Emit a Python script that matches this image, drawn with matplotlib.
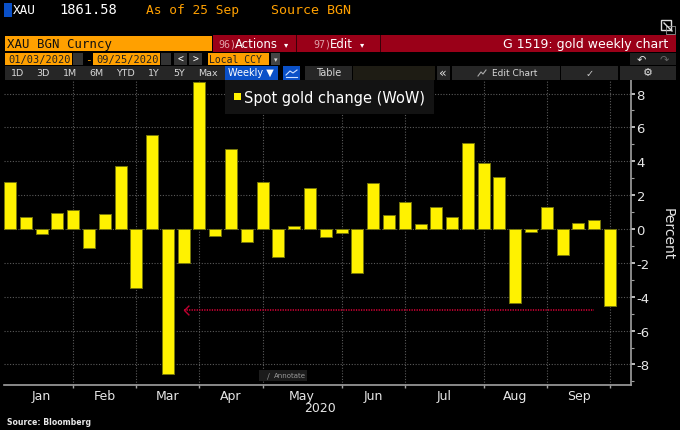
import matplotlib
matplotlib.use("Agg")
import matplotlib.pyplot as plt
import matplotlib.dates as mdates
from matplotlib.patches import Rectangle
from matplotlib.path import Path
from matplotlib.ticker import FixedLocator, FixedFormatter, MultipleLocator, FuncFormatter
import pandas as pd

week_start = "2020-01-03"
week_end = "2020-09-25"
wow_change = [2.76, 0.69, -0.30, 0.93, 1.14, -1.14, 0.89, 3.74, -3.46, 5.57, -8.54, -1.99, 8.66,
              -0.39, 4.70, -0.79, 2.80, -1.65, 0.15, 2.45, -0.47, -0.22, -2.57, 2.72, 0.80, 1.58,
              0.28, 1.31, 0.69, 5.07, 3.90, 3.05, -4.40, -0.18, 1.28, -1.53, 0.37, 0.55, -4.53]
month_names = ["Jan", "Feb", "Mar", "Apr", "May", "Jun", "Jul", "Aug", "Sep"]
month_ticks = ["2020-01-31", "2020-02-28", "2020-03-27", "2020-04-24", "2020-05-29",
               "2020-06-26", "2020-07-31", "2020-08-28", "2020-09-25"]
arrow_level = -4.78
arrow_from = "2020-09-18"
arrow_to = "2020-03-20"
range_buttons = ["1D", "3D", "1M", "6M", "YTD", "1Y", "5Y", "Max"]

W, H = 680, 431
YEL = "#fff200"
GRID = "#5a5a5a"
AXC = "#a0a0a0"
TXT = "#e6e6e6"
ORANGE = "#ffa000"
RED = "#9a0018"
ARROW = "#c00030"
MONO = "DejaVu Sans Mono"

fig = plt.figure(figsize=(W / 100, H / 100), dpi=100, facecolor="black")
ax_l, ax_r, ax_t, ax_b = 4, 631, 81, 386
ax = fig.add_axes([ax_l / W, 1 - ax_b / H, (ax_r - ax_l) / W, (ax_b - ax_t) / H], facecolor="black")

dates = pd.date_range(week_start, week_end, freq="W-FRI")
x = mdates.date2num(dates)
ticks = mdates.date2num(pd.to_datetime(month_ticks))
day_px = 15.79 / 7
ax.bar(x, wow_change, width=12 / day_px, color=YEL, edgecolor="#77770a", linewidth=0.7, zorder=3)

ax.set_xlim(x[0] - 6 / day_px, x[0] + (ax_r - 10) / day_px)
ax.set_ylim((230 - ax_b) / 16.93, (230 - ax_t) / 16.93)
ax.yaxis.tick_right()
ax.yaxis.set_major_locator(MultipleLocator(2))
ax.yaxis.set_minor_locator(MultipleLocator(1))
ax.yaxis.set_major_formatter(FuncFormatter(lambda v, _: f"{v:.0f}".replace("\u2212", "-")))
ax.tick_params(axis="y", which="major", length=3, width=1.2, color="#dddddd", labelcolor=TXT,
               labelsize=9.5, pad=1)
ax.tick_params(axis="y", which="minor", length=2.5, width=0.8, color=AXC)
ax.xaxis.set_major_locator(FixedLocator(ticks))
ax.xaxis.set_major_formatter(FixedFormatter([""] * len(ticks)))
label_pos = [(a + b) / 2 for a, b in zip([x[0]] + list(ticks[:-1]), ticks)]
ax.xaxis.set_minor_locator(FixedLocator(label_pos))
ax.xaxis.set_minor_formatter(FixedFormatter(month_names))
ax.tick_params(axis="x", which="major", length=2, width=1, color=AXC)
ax.tick_params(axis="x", which="minor", length=0, labelcolor=TXT, labelsize=9, pad=3)
ax.grid(True, which="major", color=GRID, linestyle=(0, (1, 1.5)), linewidth=0.8, zorder=1)
for s in ("top", "left"):
    ax.spines[s].set_visible(False)
for s in ("bottom", "right"):
    ax.spines[s].set_color(AXC)
    ax.spines[s].set_linewidth(1.2)

arrow_x = mdates.date2num(pd.to_datetime([arrow_to, arrow_from]))
ax.plot(arrow_x, [arrow_level, arrow_level], color=ARROW, linestyle=(0, (0.7, 0.7)), linewidth=1.3, zorder=4)
chevron = Path([(1, 1), (0, 0), (1, -1)], [Path.MOVETO, Path.LINETO, Path.LINETO])
ax.plot(arrow_x[:1], [arrow_level], marker=chevron, markersize=7, markerfacecolor="none",
        markeredgecolor=ARROW, markeredgewidth=1.0, linestyle="none", zorder=4)

ui = fig.add_axes([0, 0, 1, 1], facecolor="none", zorder=5)
ui.set_xlim(0, W)
ui.set_ylim(H, 0)
ui.axis("off")

def box(x0, y0, x1, y1, c, ec="none", lw=0):
    ui.add_patch(Rectangle((x0, y0), x1 - x0, y1 - y0, facecolor=c, edgecolor=ec, linewidth=lw))

def label(x0, y0, s, c=TXT, size=8, ha="left", font=MONO, **kw):
    ui.text(x0, y0, s, color=c, fontsize=size, ha=ha, va="center", family=font, **kw)

# ticker line
box(4, 4, 12, 18, "#0a50c8")
label(13, 10.5, "XAU", "#ffffff", 9.2)
label(59, 10.5, "1861.58", "#ffffff", 9.9)
label(146, 10.5, "As of 25 Sep", ORANGE, 9.3)
label(271, 10.5, "Source BGN", ORANGE, 9.6)

# title bars
box(5, 37, 212, 52, ORANGE)
label(7, 44.5, "XAU BGN Curncy", "#111111", 8.9)
box(213, 36, 676, 53, RED)
box(296, 36, 297, 53, "#3a0008")
box(380, 36, 381, 53, "#3a0008")
label(218, 44.5, "96)", "#e0a0a8", 7.2)
label(235, 44.5, "Actions", "#ffffff", 8.5, font="DejaVu Sans")
label(286, 44.5, "\u25be", "#ffffff", 6, ha="center", font="DejaVu Sans")
label(313, 44.5, "97)", "#e0a0a8", 7.2)
label(330, 44.5, "Edit", "#ffffff", 8.5, font="DejaVu Sans")
label(362, 44.5, "\u25be", "#ffffff", 6, ha="center", font="DejaVu Sans")
label(668, 44.5, "G 1519: gold weekly chart", "#ffffff", 9, ha="right", font="DejaVu Sans")

# date row
box(5, 54, 72, 66, ORANGE)
label(8, 60, "01/03/2020", "#222222", 7.5)
box(73, 54, 83, 66, "#333333")
label(88, 60, "-", ORANGE, 8, ha="center")
box(93, 54, 160, 66, ORANGE)
label(96, 60, "09/25/2020", "#222222", 7.5)
box(161, 54, 171, 66, "#333333")
box(174, 54, 187, 66, "#333333")
label(180.5, 59.5, "<", "#ffffff", 7, ha="center")
box(189, 54, 202, 66, "#333333")
label(195.5, 59.5, ">", "#ffffff", 7, ha="center")
box(208, 54, 269, 66, ORANGE)
label(209, 60, "Local CCY", "#222222", 7)
box(271, 54, 280, 66, "#444444")
label(275.5, 60, "\u25be", "#dddddd", 5, ha="center", font="DejaVu Sans")
box(630, 54, 676, 66, "#1f1f1f")
label(641, 60, "\u21b6", "#e0e0e0", 8, ha="center", font="DejaVu Sans")
label(664, 60, "\u21b7", "#666666", 8, ha="center", font="DejaVu Sans")

# button row
box(5, 67, 225, 81, "#262626")
for cx, s in zip([18, 43, 70, 96, 125, 154, 179, 208], range_buttons):
    label(cx, 73.5, s, "#d8d8d8", 6.8, ha="center", font="DejaVu Sans")
box(225, 67, 278, 81, "#0a50c8")
label(251, 73.5, "Weekly \u25bc", "#ffffff", 7, ha="center", font="DejaVu Sans")
box(283, 67, 300, 81, "#0a50c8")
ui.plot([286, 290, 293, 297], [76, 72, 74, 71], color="#cfe0ff", lw=0.8)
ui.plot([286, 297], [78, 78], color="#cfe0ff", lw=0.8)
box(305, 67, 352, 81, "#262626")
label(329, 73.5, "Table", "#d8d8d8", 7, ha="center", font="DejaVu Sans")
box(353, 67, 435, 81, "#1e1c14")
box(437, 67, 450, 81, "#262626")
label(443, 73, "\u00ab", "#e0e0e0", 9, ha="center", font="DejaVu Sans")
box(452, 67, 560, 81, "#262626")
label(492, 73.5, "Edit Chart", "#d8d8d8", 6.5, ha="left", font="DejaVu Sans")
ui.plot([478, 481, 483, 486], [77, 73, 75, 71], color="#aaaaaa", lw=0.8)
box(561, 67, 618, 81, "#262626")
label(590, 73.5, "\u2713", "#cccccc", 7, ha="center", font="DejaVu Sans")
box(620, 67, 676, 81, "#262626")
label(648, 73.5, "\u2699", "#e0e0e0", 8, ha="center", font="DejaVu Sans")

# pop-out icon
box(661, 21, 671, 31, "none", ec="#e0e0e0", lw=1)
ui.plot([664, 672], [24, 32], color="#e0e0e0", lw=1)
box(666, 27, 675, 35, "none", ec="#999999", lw=0.6)

# legend
box(225, 81, 434, 115, "#131313")
box(234, 94, 241, 101, YEL)
label(243.5, 98.5, "Spot gold change (WoW)", "#ffffff", 10.5, font="DejaVu Sans")

# annotate button
box(259, 371, 307, 382, "#1c1c1c")
label(268, 376.5, "\u2215", "#888888", 6, ha="center", font="DejaVu Sans")
label(274, 376.5, "Annotate", "#9a9a9a", 5.0, font="DejaVu Sans")

label(320, 409, "2020", TXT, 9, ha="center", font="DejaVu Sans")
label(668, 234, "Percent", TXT, 10, ha="center", font="DejaVu Sans", rotation=270)
label(7, 423, "Source: Bloomberg", "#e8e8e8", 5.6, font="DejaVu Sans", fontweight="bold")

fig.savefig("out.png", dpi=100, facecolor="black")
